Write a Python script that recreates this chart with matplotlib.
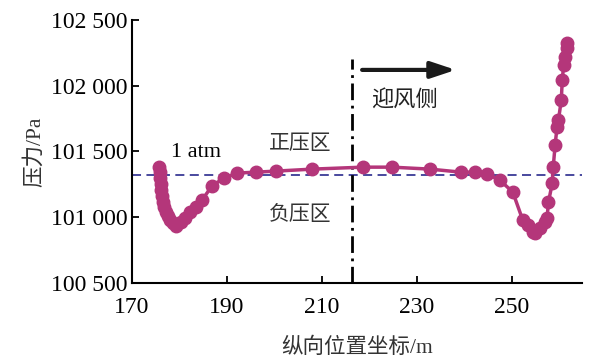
import numpy as np
import matplotlib
matplotlib.use("Agg")
from matplotlib import pyplot as plt

plt.rcParams['font.family'] = ['Liberation Serif', 'Noto Sans CJK SC']

# measured pressure along the train
x_pos = [175.7, 175.9, 176.0, 176.1, 176.2, 176.4, 176.6, 176.8, 177.2, 177.6,
         178.1, 178.7, 179.3, 180.4, 181.2, 182.3, 183.5, 184.8, 186.9, 189.4,
         192.2, 196.2, 200.4, 208.0, 218.7, 224.8, 232.8, 239.3, 242.3, 244.8,
         247.5, 250.2, 252.3, 253.4, 254.4, 254.9, 256.0, 257.0, 257.4, 257.7,
         258.5, 258.7, 259.1, 259.5, 259.8, 260.4, 260.6, 260.9, 261.1, 261.5,
         261.7]
pressure = [101381, 101343, 101297, 101252, 101206, 101161, 101115, 101077, 101039, 101008,
            100978, 100955, 100932, 100963, 100993, 101039, 101077, 101130, 101237, 101298,
            101336, 101343, 101351, 101366, 101381, 101381, 101366, 101343, 101343, 101328,
            101282, 101191, 100978, 100940, 100887, 100879, 100917, 100963, 100993, 101115,
            101260, 101381, 101549, 101686, 101739, 101891, 102043, 102158, 102218, 102287,
            102325]

atm = 101325
x_ticks = [170, 190, 210, 230, 250]
y_ticks = [100500, 101000, 101500, 102000, 102500]
y_labels = ['100 500', '101 000', '101 500', '102 000', '102 500']

fig = plt.figure(figsize=(5.9, 3.62), dpi=100)
ax = fig.add_axes([0.223, 0.218, 0.763, 0.727])

ax.axhline(atm, color='#3a3a96', linestyle=(0, (5, 3)), linewidth=1.3, zorder=1)
ax.plot(x_pos, pressure, color='#b4367a', linewidth=2.5, marker='o',
        markersize=9, zorder=3)

# windward split line
ax.plot([216.4, 216.4], [100500, 102200], color='black', linewidth=2,
        linestyle=(0, (6, 2, 1, 2)), zorder=2)
ax.annotate('', xy=(238.2, 102120), xytext=(218.5, 102120),
            arrowprops=dict(arrowstyle='-|>,head_length=1.5,head_width=0.5',
                            color='#1a1a1a', linewidth=3, shrinkA=0, shrinkB=0))

ax.text(178.2, 101495, '1 atm', fontsize=16, va='center')
ax.text(205.5, 101550, '正压区', fontsize=15, ha='center', va='center', color='#333333')
ax.text(205.5, 101010, '负压区', fontsize=15, ha='center', va='center', color='#333333')
ax.text(227.5, 101880, '迎风侧', fontsize=16, ha='center', va='center', color='#222222')

ax.set_xlim(170, 264.7)
ax.set_ylim(100500, 102500)
ax.set_xticks(x_ticks)
ax.set_yticks(y_ticks)
ax.set_yticklabels(y_labels)
ax.tick_params(direction='in', length=5, width=1.3, labelsize=17)
ax.tick_params(axis='x', pad=10)
ax.tick_params(axis='y', pad=3)

ax.spines['right'].set_visible(False)
ax.spines['top'].set_visible(False)
ax.spines['left'].set_linewidth(1.5)
ax.spines['bottom'].set_linewidth(1.5)

ax.set_xlabel('纵向位置坐标/m', fontsize=15.5, color='#333333', labelpad=14)
ax.set_ylabel('压力/Pa', fontsize=15.5, color='#333333', labelpad=4)

fig.savefig('out.png', dpi=100)
